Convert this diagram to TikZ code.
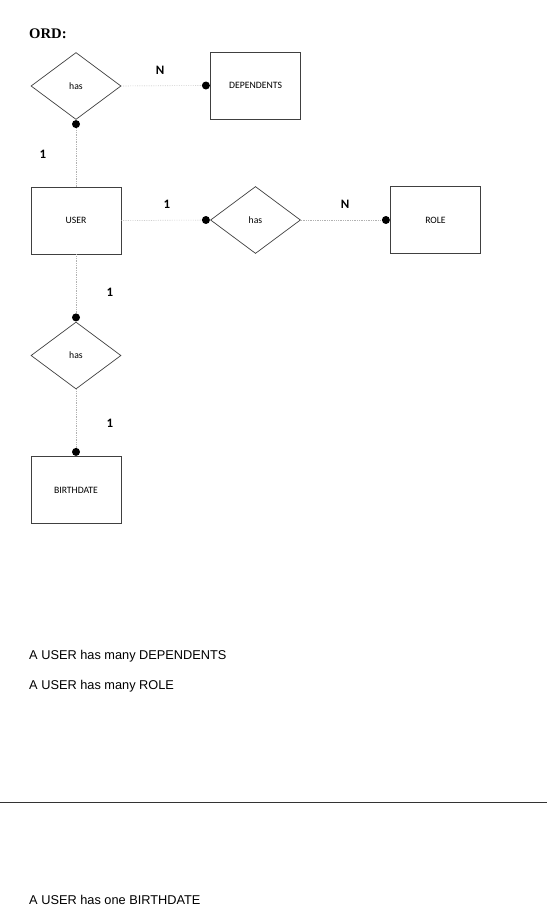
\documentclass[tikz,border=0pt]{standalone}
\usepackage{fontspec}
\setmainfont{Liberation Sans}
\newfontfamily\labelfont{Carlito}
\newfontfamily\headfont{Liberation Serif}
\usetikzlibrary{shapes.geometric}

\begin{document}
\begin{tikzpicture}[x=0.03cm,y=-0.03cm]
		\tikzstyle{entity}=[draw=black!75,line width=0.6pt,shape=rectangle,minimum width=2.7cm,minimum height=2.01cm,font=\labelfont\fontsize{8.3}{10}\selectfont]
		\tikzstyle{relation}=[draw=black!75,line width=0.6pt,shape=diamond,minimum width=2.7cm,minimum height=2.01cm,inner sep=0pt,font=\labelfont\fontsize{8.3}{10}\selectfont]
		\tikzstyle{dot}=[shape=circle,fill=black,inner sep=0pt,minimum size=0.24cm]
		\tikzstyle{conn}=[draw=black!30,densely dotted,line width=0.5pt]
		\tikzstyle{card}=[font=\labelfont\bfseries\fontsize{11}{13}\selectfont]
		\tikzstyle{sentence}=[anchor=base west,inner sep=0pt,font=\fontsize{10.9}{13}\selectfont]

		\useasboundingbox (0,0) rectangle (547,915);

		\node[anchor=base west,inner sep=0pt,font=\headfont\bfseries\fontsize{12.5}{15}\selectfont](title) at (29,38){ORD:};

		\node[relation](has1) at (76,86){has};
		\node[entity](dep) at (255.5,85.5){DEPENDENTS};
		\node[entity](user) at (76,220.5){USER};
		\node[relation](has2) at (255.5,220){has};
		\node[entity](role) at (435.5,220){ROLE};
		\node[relation](has3) at (76,355.5){has};
		\node[entity](birth) at (76,490){BIRTHDATE};

		\node[dot,anchor=north](d1) at (has1.south){};
		\node[dot,anchor=east](d2) at (dep.west){};
		\node[dot,anchor=east](d3) at (has2.west){};
		\node[dot,anchor=east](d4) at (role.west){};
		\node[dot,anchor=south](d5) at (has3.north){};
		\node[dot,anchor=south](d6) at (birth.north){};

		\draw[conn] (has1.east) -- (d2);
		\draw[conn] (d1) -- (user.north);
		\draw[conn] (user.east) -- (d3);
		\draw[conn] (has2.east) -- (d4);
		\draw[conn] (user.south) -- (d5);
		\draw[conn] (has3.south) -- (d6);

		\node[card](c1) at (160,70){N};
		\node[card](c2) at (43,154){1};
		\node[card](c3) at (167,204){1};
		\node[card](c4) at (345,204){N};
		\node[card](c5) at (110,292){1};
		\node[card](c6) at (110,423){1};

		\node[sentence](s1) at (29,659){A USER has many DEPENDENTS};
		\node[sentence](s2) at (29,689){A USER has many ROLE};
		\draw[black!80,line width=0.7pt] (0,802) -- (547,802);
		\node[sentence](s3) at (29,904){A USER has one BIRTHDATE};
	\end{tikzpicture}
\end{document}
